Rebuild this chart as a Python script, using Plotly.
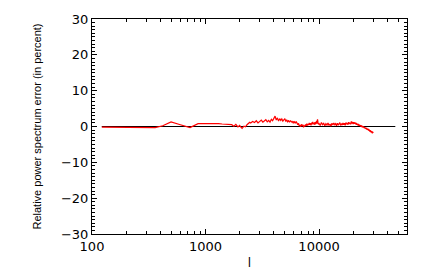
import plotly.graph_objects as go

# multipole l and relative error (percent)
ell_low = [122, 200, 300, 360, 420, 497, 600, 730, 860,
           1000, 1100, 1200, 1300, 1400, 1500, 1600, 1700, 1780, 1850, 1930,
           2000, 2050, 2100, 2180, 2250, 2320, 2400, 2450]
err_low = [-0.2, -0.2, -0.2, -0.3, 0.2, 1.3, 0.5, -0.3, 0.8,
           0.8, 0.9, 1.0, 0.8, 0.7, 0.6, 0.5, 0.5, 0.1, 0.6, -0.1,
           0.3, -0.2, -0.5, 0.1, -0.1, 0.5, 0.8, 1.2]

ell_mid = [2500, 2600, 2700, 2800, 2900, 3000, 3100, 3200, 3300, 3400,
           3500, 3600, 3700, 3800, 3900, 4000, 4100, 4200, 4300, 4400,
           4500, 4600, 4700, 4800, 4900, 5000, 5100, 5200, 5300, 5400,
           5500, 5600, 5700, 5800, 5900, 6000, 6100, 6200, 6300, 6400,
           6500, 6600, 6700, 6800, 6900, 7000, 7100, 7200, 7300, 7400,
           7500, 7600, 7700, 7800, 7900, 8000, 8100, 8200, 8300, 8400,
           8500, 8600, 8700, 8800, 8900, 9000, 9100, 9200, 9300, 9400,
           9500, 9600, 9700, 9800, 9900]
err_mid = [1.0, 1.4, 1.1, 1.6, 1.0, 1.5, 1.8, 1.2, 1.6, 1.9,
           1.3, 1.7, 1.2, 2.0, 1.6, 2.3, 2.9, 1.8, 2.4, 1.5,
           2.2, 1.7, 2.1, 1.5, 1.9, 2.2, 1.4, 1.8, 1.3, 1.7,
           1.2, 1.6, 1.4, 1.1, 1.5, 1.0, 1.3, 0.9, 1.4, 0.8,
           0.5, 0.9, 0.1, 0.4, -0.1, 0.6, 0.2, 0.5, -0.2, 0.3,
           0.0, 0.6, 0.2, 0.8, 0.3, 0.7, 0.4, 1.0, 0.5, 0.9,
           0.3, 1.1, 0.6, 1.3, 0.7, 1.0, 0.5, 1.2, 0.6, 0.9,
           1.6, 0.8, 2.0, 1.0, 0.6]

ell_high = [10000, 10250, 10500, 10750, 11000, 11250, 11500, 11750, 12000, 12250,
            12500, 12750, 13000, 13250, 13500, 13750, 14000, 14250, 14500, 14750,
            15000, 15250, 15500, 15750, 16000, 16250, 16500, 16750, 17000, 17250,
            17500, 17750, 18000, 18250, 18500, 18750, 19000, 19250, 19500, 19750,
            20000, 20250, 20500, 20750, 21000, 21250, 21500, 21750, 22000, 22250,
            22500, 22750, 23000, 23250, 23500, 23750, 24000, 24250, 24500, 24750,
            25000, 25250, 25500, 25750, 26000, 26250, 26500, 26750, 27000, 27250,
            27500, 27750, 28000, 28250, 28500, 28750, 29000, 29250, 29500, 29750,
            30000]
err_high = [0.8, 0.3, 1.1, 0.5, 0.9, 0.2, 0.8, 0.4, 1.0, 0.3,
            0.7, 0.1, 0.9, 0.4, 1.0, 0.5, 0.8, 0.2, 0.9, 0.4,
            0.7, 1.1, 0.3, 0.8, 0.4, 1.0, 0.5, 0.9, 0.3, 1.1,
            0.6, 1.0, 0.5, 1.2, 0.7, 1.0, 0.6, 1.4, 0.8, 1.3,
            0.7, 1.2, 0.8, 1.1, 0.6, 1.0, 0.5, 0.8, 0.3, 0.7,
            0.2, 0.5, 0.1, 0.4, -0.1, 0.3, -0.2, 0.1, -0.3, 0.0,
            -0.4, -0.2, -0.6, -0.3, -0.7, -0.4, -0.9, -0.6, -1.0, -0.7,
            -1.2, -0.9, -1.4, -1.0, -1.6, -1.2, -1.7, -1.3, -1.9, -1.5,
            -1.8]

ell = ell_low + ell_mid + ell_high
err = err_low + err_mid + err_high

zero_ell = [122, 47000]
zero_val = [0, 0]

x_tickvals = [100, 1000, 10000]
x_ticktext = ["100", "1000", "10000"]
x_minor_vals = [200, 300, 400, 500, 600, 700, 800, 900,
                2000, 3000, 4000, 5000, 6000, 7000, 8000, 9000,
                20000, 30000, 40000, 50000]
y_tickvals = [-30, -20, -10, 0, 10, 20, 30]

fig = go.Figure()
fig.add_trace(go.Scatter(x=zero_ell, y=zero_val, mode="lines",
                         line=dict(color="black", width=1), showlegend=False))
fig.add_trace(go.Scatter(x=ell, y=err, mode="lines",
                         line=dict(color="#ff0000", width=1.2), showlegend=False))

tickfont = dict(family="DejaVu Sans", size=13, color="black")
fig.update_layout(
    width=436, height=273,
    margin=dict(l=84, r=37, t=11, b=47),
    paper_bgcolor="white", plot_bgcolor="white",
    showlegend=False,
    xaxis=dict(type="log", range=[2, 4.775], automargin=False,
               tickmode="array", tickvals=x_tickvals, ticktext=x_ticktext,
               ticks="inside", ticklen=5, tickcolor="black",
               minor=dict(tickmode="array", tickvals=x_minor_vals,
                          ticks="inside", ticklen=3, tickcolor="black", showgrid=False),
               showline=True, linecolor="black", linewidth=1, mirror="allticks",
               showgrid=False, zeroline=False, tickfont=tickfont,
               title=dict(text="l", font=dict(family="DejaVu Sans", size=12, color="black"),
                          standoff=6)),
    yaxis=dict(range=[-30, 30], automargin=False,
               tickmode="array", tickvals=y_tickvals,
               ticks="inside", ticklen=5, tickcolor="black",
               minor=dict(ticks="inside", ticklen=3, dtick=1, tickcolor="black", showgrid=False),
               showline=True, linecolor="black", linewidth=1, mirror="allticks",
               showgrid=False, zeroline=False, tickfont=tickfont,
               title=dict(text="Relative power spectrum error (in percent)",
                          font=dict(family="Liberation Sans", size=11, color="black"),
                          standoff=17)),
)
fig.write_html("out.html")
